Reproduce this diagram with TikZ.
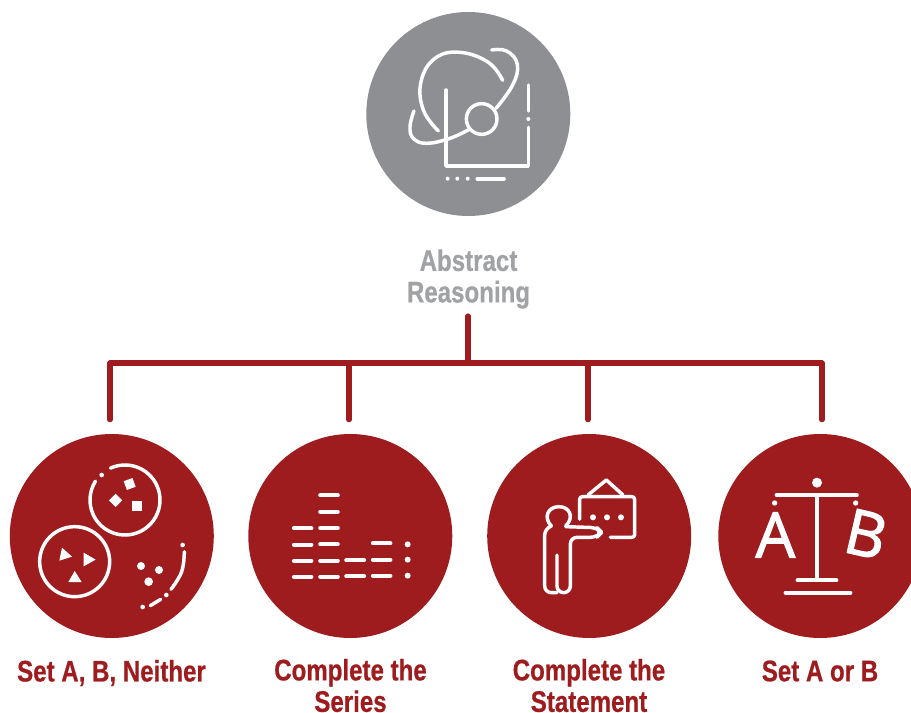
\documentclass[tikz,border=0pt]{standalone}
\usepackage{fontspec}
\newfontfamily\labfont[FakeStretch=0.81,FakeBold=0.6]{Liberation Sans}
\newfontfamily\letfont[FakeBold=1.8]{Open Sans}
\definecolor{brick}{HTML}{9E1B1E}
\definecolor{disc}{HTML}{8E8F92}
\definecolor{softgray}{HTML}{A0A2A5}
\tikzset{
  hub/.style={circle,draw=none,inner sep=0pt,minimum size=153pt},
  lab/.style={align=center,text=brick,font=\labfont\bfseries\fontsize{22.3}{23.6}\selectfont,inner sep=0pt},
  conn/.style={draw=brick,line width=3.8pt,line cap=round},
  ico/.style={draw=white,line width=2.6pt,line cap=round,line join=round},
  dash bar/.style={draw=white,line width=3.2pt,line cap=round},
  spot/.style={fill=white,draw=none},
  letter/.style={text=white,inner sep=0pt,font=\letfont\fontsize{47}{50}\selectfont}
}
\begin{document}
\begin{tikzpicture}[x=0.75pt,y=-0.75pt]
\useasboundingbox (0,0) rectangle (911,713);
\clip (0,0) rectangle (911,713);

\node[hub,fill=disc] (top) at (468.3,114) {};
\node[hub,fill=brick] (c1) at (111.8,536) {};
\node[hub,fill=brick] (c2) at (350.3,536) {};
\node[hub,fill=brick] (c3) at (589.2,536) {};
\node[hub,fill=brick] (c4) at (820.3,536) {};

\node[lab,text=softgray] (abs) at (468.5,279) {Abstract\\Reasoning};
\node[lab] (l1) at (111.5,673) {Set A, B, Neither};
\node[lab] (l2) at (350.5,685.5) {Complete the\\Series};
\node[lab] (l3) at (589,685.5) {Complete the\\Statement};
\node[lab] (l4) at (820,671) {Set A or B};

% connectors
\coordinate (trunktop) at (468,316);
\coordinate (junction) at (468,363);
\coordinate (bus1) at (110,363);
\coordinate (bus2) at (349,363);
\coordinate (bus3) at (588,363);
\coordinate (bus4) at (822,363);
\draw[conn] (trunktop) -- (junction);
\draw[conn] (bus1) -- (bus4);
\foreach \b/\c in {bus1/c1,bus2/c2,bus3/c3,bus4/c4}
  \draw[conn,shorten >=10.5pt] (\b) -- (\b |- \c.north);

% top icon
\begin{scope}[shift={(360,5)},scale=1/3]
\draw[ico] plot[smooth,tension=0.7] coordinates {(428,226) (385,172) (300,142) (225,160) (183,230) (190,315) (235,378)};
\draw[ico] plot[smooth,tension=0.7] coordinates {(395,135) (440,138) (472,178) (458,240) (408,310)};
\draw[ico] plot[smooth,tension=0.7] coordinates {(330,372) (270,400) (200,415) (160,400) (150,365) (162,318)};
\draw[ico] (365,342) circle[radius=46];
\draw[ico] (258,255) -- (258,483) -- (505,483) -- (505,367);
\draw[ico] (505,240) -- (505,318);
\fill[spot] (505,342) circle[radius=6];
\fill[spot] (263,521) circle[radius=6];
\fill[spot] (292,521) circle[radius=6];
\fill[spot] (323,521) circle[radius=6];
\draw[ico,line width=2.8pt] (352,521) -- (432,521);
\end{scope}

% set icon
\begin{scope}[shift={(5,430)},scale=1/3]
\draw[ico] (360,210) ++(245.5:105) arc[start angle=245.5,end angle=572.5,radius=105];
\fill[spot] (290,135) circle[radius=7];
\draw[ico] (209,395) circle[radius=105];
\fill[spot,rotate around={20:(374,162)}] (360,148) rectangle (388,176);
\fill[spot,rotate around={45:(332,211)}] (318,197) rectangle (346,225);
\fill[spot] (382,214) rectangle (412,244);
\fill[spot] (163,392) -- (171,353) -- (201,380) -- cycle;
\fill[spot] (236,368) -- (272,389) -- (236,409) -- cycle;
\fill[spot] (190,456) -- (230,456) -- (209,423) -- cycle;
\fill[spot] (408,408) circle[radius=12];
\fill[spot] (462,420) circle[radius=12];
\fill[spot] (431,455) circle[radius=13];
\fill[spot] (533,345) circle[radius=7];
\draw[ico] plot[smooth,tension=0.7] coordinates {(538,365) (530,425) (498,478)};
\fill[spot] (484,495) circle[radius=7];
\draw[ico] (436,527) -- (467,508);
\fill[spot] (413,531) circle[radius=7];
\end{scope}

% series icon
\begin{scope}[shift={(245,430)},scale=1/3]
\foreach \y in {295,344,393,441} \draw[dash bar] (147,\y) -- (199,\y);
\foreach \y in {196,245,294,343,392,440} \draw[dash bar] (226,\y) -- (278,\y);
\foreach \y in {391,439} \draw[dash bar] (304,\y) -- (357,\y);
\foreach \y in {340,389,437} \draw[dash bar] (384,\y) -- (436,\y);
\foreach \y in {343,389,437} \fill[spot] (488,\y) circle[radius=9];
\end{scope}

% statement icon
\begin{scope}[shift={(483,430)},scale=1/3]
\draw[ico,rounded corners=5pt] (248,290) -- (342,293) -- (356,307) -- (342,322) -- (262,322) -- (262,488) -- (222,488) -- (222,375);
\draw[ico,rounded corners=5pt] (222,488) -- (185,488) -- (185,296) -- (205,288);
\draw[ico] (205,288) .. controls (180,262) and (195,230) .. (228,230) .. controls (260,230) and (275,262) .. (248,288);
\draw[ico,rounded corners=2pt] (290,268) -- (290,200) -- (455,200) -- (455,322) -- (382,322);
\draw[ico] (315,195) -- (370,150) -- (420,195);
\foreach \x in {330,372,414} \fill[spot] (\x,262) circle[radius=9];
\end{scope}

% A or B icon
\begin{scope}[shift={(711,430)},scale=1/3]
\fill[spot] (318,158) circle[radius=15];
\draw[dash bar] (197,195) -- (437,195);
\draw[ico,line width=2.8pt] (318,195) -- (318,450);
\draw[dash bar] (260,451) -- (376,451);
\draw[dash bar] (224,488) -- (418,488);
\fill[spot] (191,219) circle[radius=8];
\fill[spot] (434,219) circle[radius=8];
\node[letter] (letA) at (193,315) {A};
\node[letter,rotate=-13] (letB) at (465,312) {B};
\end{scope}
\end{tikzpicture}
\end{document}
